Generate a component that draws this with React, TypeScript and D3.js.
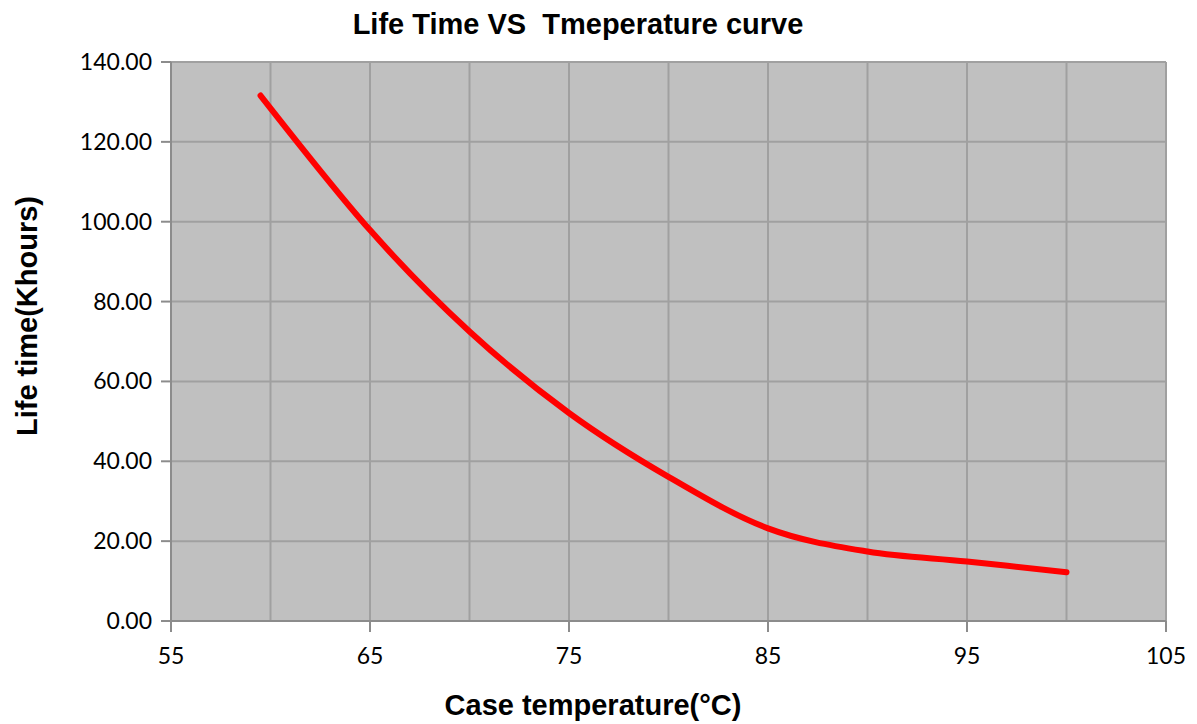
import React from "react";
import * as d3 from "d3";

const temps = [59.5, 65, 70, 75, 80, 85, 90, 95, 100];
const lifeKh = [131.6, 97.9, 72.5, 52.1, 36.1, 23.2, 17.4, 14.9, 12.2];
const yTicks = [0, 20, 40, 60, 80, 100, 120, 140];
const xLabelTicks = [55, 65, 75, 85, 95, 105];
const xGridTicks = [55, 60, 65, 70, 75, 80, 85, 90, 95, 100, 105];

const W = 1197, H = 724;
const L = 171, R = 1166, T = 62, B = 621;

export default function App() {
  const x = d3.scaleLinear().domain([55, 105]).range([L, R]);
  const y = d3.scaleLinear().domain([0, 140]).range([B, T]);
  const pts = temps.map((t, i) => [t, lifeKh[i]] as [number, number]);
  const line = d3
    .line<[number, number]>()
    .x((d) => x(d[0]))
    .y((d) => y(d[1]))
    .curve(d3.curveCardinal.tension(0));
  const grid = "#a0a0a0";
  return (
    <svg width={W} height={H} style={{ position: "absolute", left: 0, top: 0 }}>
      <rect x={0} y={0} width={W} height={H} fill="#fff" />
      <rect x={L} y={T} width={R - L} height={B - T} fill="#c0c0c0" />
      {xGridTicks.map((t) => (
        <line key={"gx" + t} x1={x(t)} x2={x(t)} y1={T} y2={B} stroke={grid} strokeWidth={2} />
      ))}
      {yTicks.map((t) => (
        <line key={"gy" + t} x1={L} x2={R} y1={y(t)} y2={y(t)} stroke={t === 0 ? "#8c8c8c" : grid} strokeWidth={2} />
      ))}
      {yTicks.map((t) => (
        <g key={"yt" + t}>
          <line x1={L - 10} x2={L} y1={y(t)} y2={y(t)} stroke="#8c8c8c" strokeWidth={2} />
          <text
            x={152}
            y={y(t)}
            dy="0.35em"
            textAnchor="end"
            fontFamily="Lato, 'Open Sans', sans-serif"
            fontSize={23}
            fill="#000"
          >
            {t.toFixed(2)}
          </text>
        </g>
      ))}
      {xLabelTicks.map((t) => (
        <g key={"xt" + t}>
          <line x1={x(t)} x2={x(t)} y1={B} y2={B + 11} stroke="#8c8c8c" strokeWidth={2} />
          <text
            x={x(t)}
            y={656}
            dy="0.35em"
            textAnchor="middle"
            fontFamily="Lato, 'Open Sans', sans-serif"
            fontSize={23}
            fill="#000"
          >
            {t}
          </text>
        </g>
      ))}
      <line x1={L} x2={L} y1={T} y2={B} stroke="#8c8c8c" strokeWidth={2} />
      <path d={line(pts) || ""} fill="none" stroke="#ff0000" strokeWidth={6} strokeLinecap="round" strokeLinejoin="round" />
      <text
        x={578}
        y={24}
        dy="0.35em"
        textAnchor="middle"
        fontFamily="'Liberation Sans', Arial, sans-serif"
        fontWeight="bold"
        fontSize={29}
        fill="#000"
        style={{ whiteSpace: "pre" }}
      >
        {"Life Time VS  Tmeperature curve"}
      </text>
      <text
        x={593}
        y={705}
        dy="0.35em"
        textAnchor="middle"
        fontFamily="'Liberation Sans', Arial, sans-serif"
        fontWeight="bold"
        fontSize={29}
        fill="#000"
      >
        Case temperature(°C)
      </text>
      <text
        transform={`translate(27,316) rotate(-90)`}
        dy="0.35em"
        textAnchor="middle"
        fontFamily="'Liberation Sans', Arial, sans-serif"
        fontWeight="bold"
        fontSize={29}
        fill="#000"
      >
        Life time(Khours)
      </text>
    </svg>
  );
}
